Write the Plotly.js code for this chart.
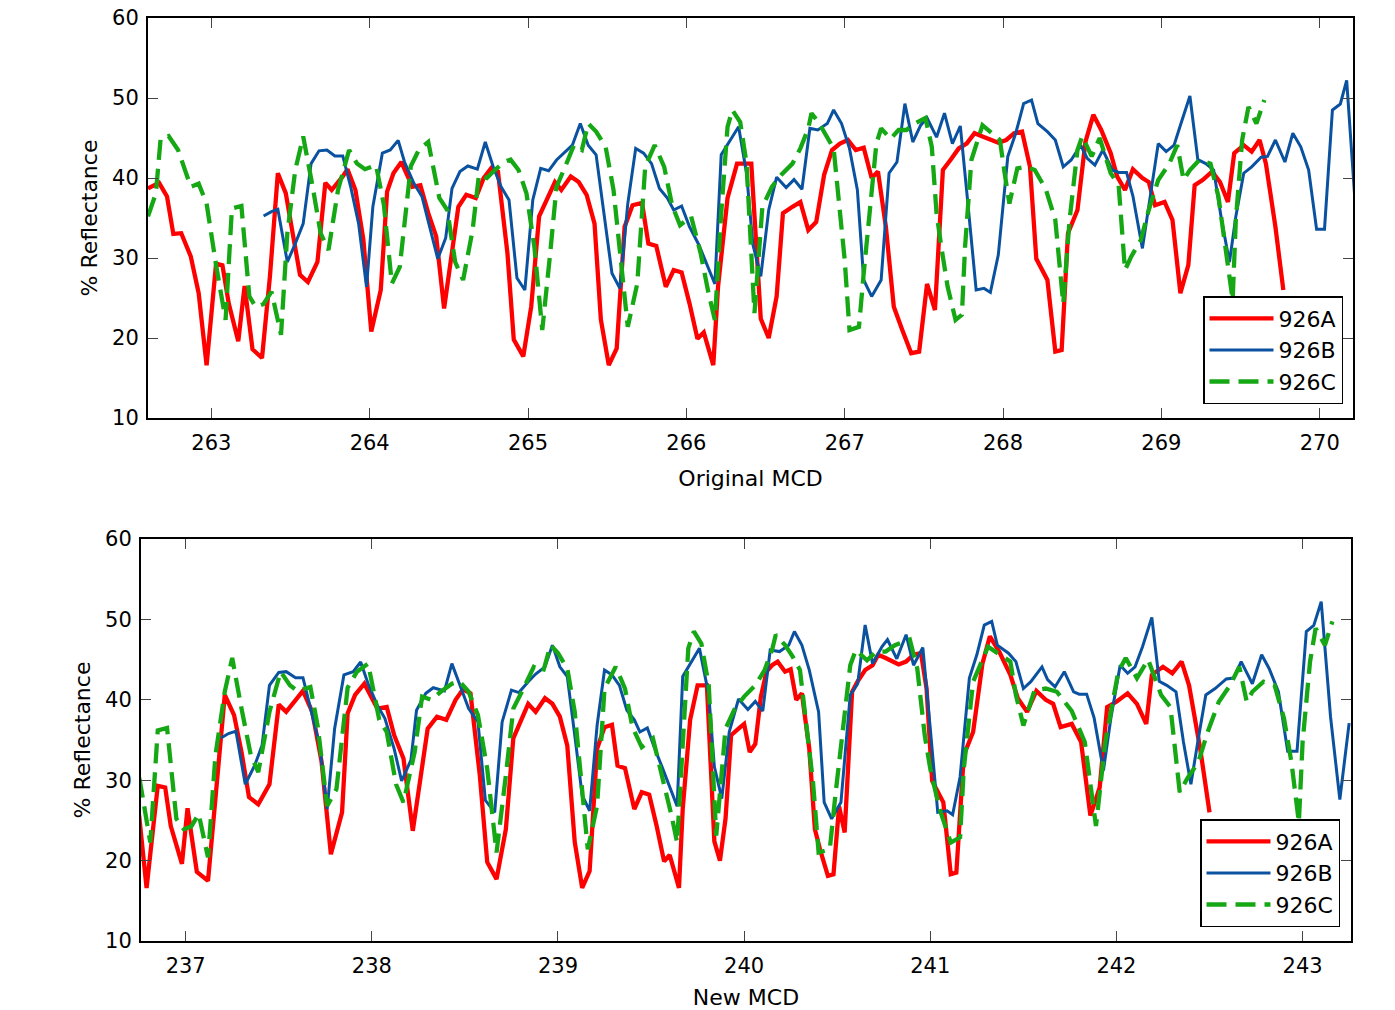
<!DOCTYPE html>
<html>
<head>
<meta charset="utf-8">
<script src="https://cdn.plot.ly/plotly-3.0.1.min.js"></script>
<style>html,body{margin:0;padding:0;background:#fff;}#chart{width:1395px;height:1010px;}</style>
</head>
<body>
<div id="chart"></div>
<script>
// ---- Hole 926A (red) ----
const redOrigMCD = [262.60,262.67,262.72,262.76,262.81,262.87,262.92,262.97,263.03,263.07,
263.11,263.17,263.21,263.26,263.32,263.37,263.42,263.47,263.51,263.56,
263.61,263.67,263.72,263.76,263.83,263.86,263.91,263.96,264.01,264.07,
264.11,264.15,264.20,264.27,264.32,264.37,264.42,264.47,264.56,264.61,
264.67,264.72,264.77,264.81,264.87,264.91,264.97,265.02,265.07,265.12,
265.17,265.21,265.27,265.32,265.37,265.42,265.46,265.51,265.56,265.61,
265.66,265.72,265.76,265.81,265.87,265.92,265.97,266.02,266.07,266.11,
266.17,266.20,266.26,266.32,266.41,266.47,266.52,266.57,266.61,266.67,
266.72,266.77,266.82,266.87,266.92,266.97,267.02,267.07,267.12,267.17,
267.21,267.26,267.31,267.36,267.42,267.47,267.52,267.57,267.62,267.67,
267.72,267.77,267.82,267.87,267.92,267.97,268.02,268.07,268.12,268.17,
268.21,268.28,268.33,268.37,268.41,268.47,268.52,268.57,268.62,268.68,
268.72,268.77,268.82,268.88,268.92,268.96,269.02,269.07,269.12,269.17,
269.21,269.26,269.32,269.37,269.42,269.46,269.52,269.57,269.62,269.66,
269.72,269.77];
const redNewMCD = [236.45,236.52,236.56,236.60,236.64,236.70,236.75,236.79,236.85,236.89,
236.92,236.98,237.01,237.06,237.12,237.16,237.21,237.26,237.30,237.34,
237.39,237.45,237.50,237.54,237.60,237.63,237.68,237.73,237.78,237.84,
237.87,237.91,237.96,238.03,238.08,238.12,238.17,238.22,238.30,238.35,
238.40,238.45,238.49,238.53,238.58,238.62,238.67,238.72,238.76,238.80,
238.84,238.88,238.93,238.97,239.01,239.05,239.09,239.13,239.17,239.21,
239.25,239.29,239.32,239.36,239.41,239.45,239.49,239.53,239.57,239.60,
239.65,239.67,239.71,239.75,239.80,239.84,239.87,239.90,239.93,239.97,
240.00,240.03,240.06,240.09,240.12,240.15,240.18,240.22,240.25,240.28,
240.31,240.35,240.38,240.41,240.45,240.48,240.51,240.54,240.58,240.61,
240.65,240.69,240.72,240.76,240.80,240.83,240.87,240.91,240.95,240.98,
241.01,241.07,241.11,241.14,241.18,241.23,241.28,241.32,241.37,241.43,
241.47,241.52,241.57,241.62,241.66,241.70,241.76,241.81,241.86,241.91,
241.95,242.00,242.06,242.11,242.16,242.19,242.25,242.30,242.35,242.39,
242.45,242.50];
const redReflectance = [38.7,39.4,37.7,33.0,33.1,30.2,25.6,16.6,29.3,29.1,
24.3,19.6,26.5,18.6,17.5,27.7,40.6,38.1,33.5,27.9,
27.0,29.5,39.4,38.5,40.2,41.1,38.5,32.3,20.8,26.0,
38.3,40.6,42.0,38.9,39.1,35.6,32.7,23.7,36.4,37.9,
37.5,40.0,41.3,40.8,30.6,19.8,17.7,23.9,35.2,37.5,
39.5,38.5,40.2,39.5,37.9,34.3,22.3,16.6,18.7,33.9,
36.6,36.9,31.8,31.5,26.4,28.5,28.2,24.3,19.9,20.7,
16.6,26.4,37.5,41.8,41.8,22.4,20.0,25.2,35.6,36.4,
37.0,33.5,34.5,40.4,43.5,44.3,44.75,43.5,43.8,40.0,
40.8,33.9,23.9,21.2,18.1,18.3,26.75,23.5,41.0,42.3,
43.7,44.3,45.6,45.2,44.75,44.4,44.75,45.6,45.8,41.4,
29.9,27.25,18.3,18.5,33.1,36.0,44.5,47.9,46.0,43.1,
40.2,38.5,41.1,40.0,39.5,36.6,37.0,34.75,25.6,29.1,
39.1,39.75,40.8,39.5,37.0,43.1,44.1,43.3,44.75,41.8,
33.9,26.0];

// ---- Hole 926B (blue) ----
const blueOrigMCD = [263.33,263.38,263.42,263.48,263.53,263.58,263.63,263.68,263.73,263.78,
263.83,263.88,263.93,263.98,264.02,264.08,264.13,264.18,264.22,264.28,
264.33,264.38,264.43,264.48,264.52,264.57,264.62,264.68,264.73,264.78,
264.83,264.88,264.93,264.98,265.03,265.08,265.13,265.18,265.23,265.28,
265.33,265.38,265.43,265.48,265.53,265.58,265.63,265.68,265.73,265.78,
265.83,265.88,265.92,265.97,266.02,266.08,266.13,266.18,266.22,266.28,
266.33,266.38,266.42,266.47,266.52,266.57,266.63,266.68,266.73,266.78,
266.83,266.89,266.93,266.98,267.03,267.08,267.12,267.17,267.23,267.28,
267.33,267.38,267.43,267.48,267.52,267.58,267.63,267.68,267.73,267.78,
267.83,267.88,267.92,267.97,268.03,268.08,268.13,268.18,268.22,268.28,
268.33,268.38,268.43,268.49,268.53,268.58,268.63,268.69,268.73,268.78,
268.82,268.88,268.93,268.98,269.03,269.08,269.12,269.18,269.23,269.28,
269.33,269.38,269.43,269.47,269.52,269.57,269.63,269.67,269.72,269.78,
269.83,269.88,269.93,269.98,270.03,270.08,270.13,270.17,270.22,270.27,
270.32];
const blueNewMCD = [237.19,237.23,237.27,237.32,237.37,237.41,237.45,237.50,237.54,237.59,
237.63,237.67,237.72,237.76,237.80,237.85,237.90,237.94,237.98,238.03,
238.07,238.12,238.16,238.21,238.24,238.29,238.33,238.39,238.43,238.48,
238.52,238.57,238.61,238.66,238.70,238.75,238.79,238.84,238.88,238.93,
238.97,239.01,239.05,239.09,239.13,239.17,239.21,239.25,239.29,239.33,
239.37,239.41,239.44,239.48,239.52,239.56,239.60,239.64,239.67,239.72,
239.76,239.81,239.84,239.88,239.92,239.97,240.02,240.06,240.10,240.14,
240.19,240.24,240.27,240.31,240.35,240.40,240.43,240.47,240.52,240.57,
240.61,240.65,240.69,240.74,240.77,240.82,240.87,240.91,240.96,241.00,
241.04,241.09,241.12,241.16,241.21,241.25,241.29,241.33,241.36,241.42,
241.46,241.50,241.54,241.60,241.63,241.67,241.72,241.77,241.80,241.84,
241.88,241.93,241.97,242.02,242.06,242.10,242.14,242.19,242.23,242.27,
242.32,242.36,242.40,242.44,242.48,242.53,242.59,242.63,242.67,242.73,
242.78,242.82,242.87,242.92,242.97,243.02,243.06,243.10,243.15,243.20,
243.25];
const blueReflectance = [35.25,35.8,36.1,29.5,31.8,34.3,41.8,43.4,43.5,42.75,
42.75,38.9,34.3,26.4,36.4,43.1,43.5,44.7,42.0,39.3,
37.7,33.9,29.9,32.5,38.7,40.8,41.5,41.1,44.5,41.4,
38.9,37.25,27.5,26.0,37.25,41.2,40.9,42.25,43.2,44.1,
46.8,44.1,42.9,35.6,28.1,26.2,36.8,43.7,43.1,41.8,
38.7,37.5,36.0,36.5,33.9,31.6,29.1,26.75,42.9,44.75,
46.4,40.6,31.7,27.7,36.0,40.1,38.8,39.8,38.6,46.2,
46.0,46.8,48.5,46.8,43.7,38.5,27.25,25.2,27.25,40.6,
42.0,49.3,44.5,46.6,47.5,45.1,48.1,44.3,46.5,36.4,
26.0,26.2,25.7,30.4,42.7,45.6,49.3,49.75,46.8,45.8,
44.75,41.4,42.25,44.1,42.5,41.6,43.5,41.0,40.7,40.7,
37.75,31.2,37.7,44.3,43.3,44.1,46.6,50.25,42.3,41.8,
41.0,34.75,29.5,35.2,40.6,41.4,42.6,42.7,44.75,42.0,
45.6,43.9,41.0,33.6,33.6,48.5,49.25,52.2,37.9,27.6,
37.1];

// ---- Hole 926C (green) ----
const greenOrigMCD = [262.60,262.65,262.68,262.73,262.79,262.87,262.92,262.97,263.03,263.09,
263.13,263.19,263.24,263.28,263.33,263.38,263.44,263.48,263.53,263.58,
263.64,263.69,263.74,263.80,263.87,263.92,263.97,264.04,264.09,264.14,
264.19,264.26,264.31,264.37,264.44,264.49,264.54,264.59,264.65,264.69,
264.74,264.79,264.85,264.89,264.94,264.99,265.04,265.09,265.14,265.18,
265.23,265.29,265.34,265.38,265.43,265.49,265.54,265.58,265.63,265.69,
265.74,265.80,265.86,265.91,265.96,266.03,266.09,266.14,266.18,266.22,
266.26,266.29,266.34,266.38,266.43,266.48,266.54,266.60,266.67,266.72,
266.77,266.79,266.84,266.88,266.93,266.96,267.00,267.03,267.09,267.12,
267.16,267.20,267.23,267.29,267.34,267.39,267.44,267.51,267.55,267.58,
267.61,267.65,267.70,267.74,267.76,267.80,267.87,267.93,267.98,268.01,
268.04,268.09,268.15,268.20,268.27,268.33,268.38,268.42,268.47,268.50,
268.56,268.61,268.68,268.73,268.77,268.81,268.87,268.92,268.98,269.05,
269.10,269.14,269.18,269.24,269.31,269.36,269.40,269.45,269.47,269.51,
269.55,269.60,269.65];
const greenNewMCD = [236.35,236.40,236.43,236.48,236.54,236.61,236.66,236.70,236.76,236.81,
236.85,236.90,236.95,236.99,237.03,237.07,237.12,237.16,237.21,237.25,
237.30,237.35,237.39,237.45,237.51,237.56,237.60,237.67,237.71,237.76,
237.81,237.87,237.92,237.98,238.04,238.08,238.13,238.17,238.23,238.27,
238.32,238.37,238.43,238.47,238.52,238.57,238.62,238.67,238.72,238.76,
238.81,238.87,238.92,238.96,239.00,239.05,239.09,239.12,239.16,239.21,
239.25,239.31,239.36,239.40,239.45,239.51,239.56,239.61,239.64,239.67,
239.70,239.73,239.77,239.81,239.85,239.90,239.95,240.00,240.06,240.11,
240.15,240.17,240.22,240.26,240.30,240.33,240.37,240.40,240.46,240.49,
240.53,240.57,240.60,240.66,240.71,240.76,240.81,240.89,240.93,240.97,
241.00,241.05,241.11,241.16,241.18,241.23,241.31,241.38,241.43,241.46,
241.50,241.56,241.62,241.68,241.76,241.83,241.89,241.94,242.01,242.05,
242.11,242.17,242.24,242.29,242.34,242.38,242.44,242.49,242.55,242.61,
242.66,242.70,242.73,242.79,242.85,242.90,242.94,242.98,243.00,243.04,
243.07,243.12,243.16];
const greenReflectance = [35.2,38.1,45.0,45.25,43.5,38.9,39.3,36.8,29.1,22.25,
36.2,36.5,25.2,23.9,24.25,25.8,20.4,33.1,41.0,45.2,
38.9,33.1,31.0,38.5,43.5,41.8,41.1,41.6,36.6,26.8,
28.9,41.5,43.5,44.5,37.5,36.0,29.5,27.25,33.5,40.4,
40.0,41.0,42.0,42.3,41.0,38.1,31.4,21.0,30.6,38.9,
41.2,44.1,43.5,46.8,45.8,43.9,38.5,31.0,21.4,26.8,
41.4,44.1,41.4,36.6,34.1,35.2,30.6,25.6,22.25,35.6,
46.4,48.5,47.0,41.8,23.1,36.4,38.9,40.4,41.8,43.7,
46.2,48.1,46.8,45.4,43.7,37.7,29.75,21.0,21.4,28.1,
36.0,44.3,46.2,44.9,46.0,46.0,46.8,47.5,43.9,35.6,
31.4,26.4,22.25,22.9,31.4,42.25,46.6,45.6,44.75,40.6,
36.8,41.2,41.4,41.0,38.6,34.75,24.3,34.75,43.5,45.2,
42.7,45.0,40.6,39.1,28.5,30.2,32.25,36.0,39.75,41.8,
44.1,39.75,41.0,42.25,41.8,37.7,32.25,24.75,34.75,44.75,
48.9,46.8,49.75];

const seriesNames = ['926A','926B','926C'];
const topTicks = [263,264,265,266,267,268,269,270];
const bottomTicks = [237,238,239,240,241,242,243];
const yTicks = [10,20,30,40,50,60];

const RED = '#ff0000', BLUE = '#0a52a0', GREEN = '#16a814';
const FONT = 'DejaVu Sans, sans-serif';

function mk(x, y, name, color, width, dash, xa, ya, legend) {
  return {x: x, y: y, name: name, type: 'scatter', mode: 'lines',
    line: {color: color, width: width, dash: dash},
    xaxis: xa, yaxis: ya, legend: legend, hoverinfo: 'skip'};
}

const traces = [
  mk(redOrigMCD, redReflectance, seriesNames[0], RED, 4.3, 'solid', 'x', 'y', 'legend'),
  mk(blueOrigMCD, blueReflectance, seriesNames[1], BLUE, 3, 'solid', 'x', 'y', 'legend'),
  mk(greenOrigMCD, greenReflectance, seriesNames[2], GREEN, 4.3, '20px,9px', 'x', 'y', 'legend'),
  mk(redNewMCD, redReflectance, seriesNames[0], RED, 4.3, 'solid', 'x2', 'y2', 'legend2'),
  mk(blueNewMCD, blueReflectance, seriesNames[1], BLUE, 3, 'solid', 'x2', 'y2', 'legend2'),
  mk(greenNewMCD, greenReflectance, seriesNames[2], GREEN, 4.3, '20px,9px', 'x2', 'y2', 'legend2')
];

function xax(domain, range, ticks, title, anchor, standoff) {
  return {domain: domain, range: range, anchor: anchor, tickmode: 'array', tickvals: ticks,
    ticktext: ticks.map(String), ticks: 'inside', ticklen: 10, tickwidth: 1, tickcolor: '#444',
    ticklabelstandoff: 5,
    showline: true, linecolor: '#000', linewidth: 2, mirror: 'ticks', showgrid: false, zeroline: false,
    tickfont: {family: FONT, size: 21, color: '#000'},
    title: {text: title, font: {family: FONT, size: 22, color: '#000'}, standoff: standoff}};
}
function yax(domain, anchor) {
  return {domain: domain, range: [10, 60], anchor: anchor, tickmode: 'array', tickvals: yTicks,
    ticktext: yTicks.map(String), ticks: 'inside', ticklen: 10, tickwidth: 1, tickcolor: '#444',
    ticklabelstandoff: 3,
    showline: true, linecolor: '#000', linewidth: 2, mirror: 'ticks', showgrid: false, zeroline: false,
    tickfont: {family: FONT, size: 21, color: '#000'},
    title: {text: '% Reflectance', font: {family: FONT, size: 22, color: '#000'}, standoff: 8}};
}
function leg(x, y) {
  return {x: x, y: y, xanchor: 'right', yanchor: 'bottom', xref: 'paper', yref: 'paper',
    bgcolor: '#fff', bordercolor: '#000', borderwidth: 1.5,
    font: {family: FONT, size: 22, color: '#000'}, tracegroupgap: 0, itemwidth: 64};
}

const layout = {
  width: 1395, height: 1010,
  margin: {l: 0, r: 0, t: 0, b: 0},
  paper_bgcolor: '#fff', plot_bgcolor: '#fff',
  font: {family: FONT, size: 21, color: '#000'},
  showlegend: true,
  xaxis: xax([148/1395, 1353/1395], [262.60, 270.21], topTicks, 'Original MCD', 'y', 16),
  yaxis: yax([1 - 418/1010, 1 - 18/1010], 'x'),
  xaxis2: xax([141/1395, 1351/1395], [236.76, 243.26], bottomTicks, 'New MCD', 'y2', 12),
  yaxis2: yax([1 - 941/1010, 1 - 539/1010], 'x2'),
  legend: leg(1343/1395, 1 - 404/1010),
  legend2: leg(1340/1395, 1 - 927/1010)
};

Plotly.newPlot('chart', traces, layout, {staticPlot: true, displayModeBar: false});
</script>
</body>
</html>
